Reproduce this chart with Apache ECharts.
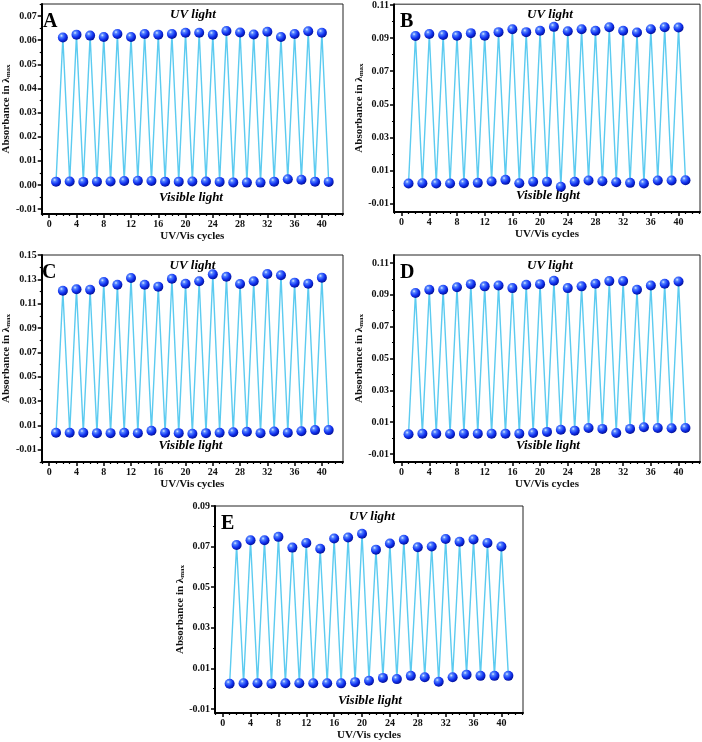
<!DOCTYPE html>
<html>
<head>
<meta charset="utf-8">
<script src="https://cdn.jsdelivr.net/npm/echarts@6/dist/echarts.min.js"></script>
<style>html,body{margin:0;padding:0;background:#fff}#c{width:702px;height:742px}</style>
</head>
<body>
<div id="c"></div>
<script>
// ---- data ----
const cycleX = [1,2,3,4,5,6,7,8,9,10,11,12,13,14,15,16,17,18,19,20,21,22,23,24,25,26,27,28,29,30,31,32,33,34,35,36,37,38,39,40,41];
const xTickLabels = [0,4,8,12,16,20,24,28,32,36,40];

const A_uv  = [0.0611,0.0623,0.0619,0.0613,0.0626,0.0613,0.0626,0.0623,0.0626,0.0631,0.0631,0.0623,0.0638,0.0632,0.0624,0.0635,0.0613,0.0626,0.0637,0.0631];
const A_vis = [0.0014,0.0015,0.0013,0.0014,0.0015,0.0017,0.0018,0.0017,0.0014,0.0014,0.0015,0.0015,0.0013,0.0011,0.0010,0.0010,0.0014,0.0024,0.0022,0.0014,0.0013];
const A_yTicks = [-0.01,0,0.01,0.02,0.03,0.04,0.05,0.06,0.07];

const B_uv  = [0.0913,0.0925,0.0919,0.0915,0.0930,0.0915,0.0936,0.0954,0.0936,0.0944,0.0968,0.0942,0.0954,0.0944,0.0966,0.0944,0.0934,0.0954,0.0966,0.0964];
const B_vis = [0.0022,0.0024,0.0022,0.0022,0.0024,0.0026,0.0034,0.0044,0.0024,0.0032,0.0032,0.0003,0.0032,0.0040,0.0036,0.0030,0.0026,0.0022,0.0040,0.0040,0.0042];
const B_yTicks = [-0.01,0.01,0.03,0.05,0.07,0.09,0.11];

const C_uv  = [0.1207,0.1218,0.1215,0.1278,0.1256,0.1311,0.1256,0.1240,0.1305,0.1264,0.1284,0.1341,0.1322,0.1262,0.1284,0.1344,0.1333,0.1273,0.1264,0.1314];
const C_vis = [0.0040,0.0040,0.0040,0.0037,0.0037,0.0040,0.0037,0.0056,0.0040,0.0037,0.0032,0.0037,0.0040,0.0045,0.0048,0.0037,0.0051,0.0040,0.0053,0.0062,0.0062];
const C_yTicks = [-0.01,0.01,0.03,0.05,0.07,0.09,0.11,0.13,0.15];

const D_uv  = [0.0911,0.0932,0.0932,0.0948,0.0967,0.0953,0.0959,0.0942,0.0963,0.0967,0.0988,0.0942,0.0953,0.0969,0.0986,0.0986,0.0932,0.0959,0.0969,0.0984];
const D_vis = [0.0024,0.0028,0.0028,0.0026,0.0028,0.0028,0.0028,0.0028,0.0028,0.0032,0.0039,0.0053,0.0047,0.0064,0.0058,0.0032,0.0058,0.0068,0.0064,0.0062,0.0064];
const D_yTicks = [-0.01,0.01,0.03,0.05,0.07,0.09,0.11];

const E_uv  = [0.0708,0.0731,0.0731,0.0748,0.0695,0.0718,0.0689,0.0740,0.0745,0.0763,0.0685,0.0715,0.0734,0.0697,0.0700,0.0737,0.0724,0.0735,0.0718,0.0700];
const E_vis = [0.0024,0.0027,0.0027,0.0024,0.0027,0.0027,0.0027,0.0027,0.0026,0.0032,0.0039,0.0053,0.0047,0.0063,0.0056,0.0034,0.0056,0.0069,0.0063,0.0063,0.0063];
const E_yTicks = [-0.01,0.01,0.03,0.05,0.07,0.09];

const panelLetters = ['A','B','C','D','E'];
const uvText = 'UV light';
const visText = 'Visible light';
const xName = 'UV/Vis cycles';

// ---- layout ----
const panels = [
  {uv:A_uv, vis:A_vis, yt:A_yTicks, ymin:-0.012, ymax:0.075, step:0.005, g:{left:37, top:4, width:306, height:210}},
  {uv:B_uv, vis:B_vis, yt:B_yTicks, ymin:-0.015, ymax:0.1105, step:0.01, g:{left:394, top:4, width:306, height:208}},
  {uv:C_uv, vis:C_vis, yt:C_yTicks, ymin:-0.02, ymax:0.15, step:0.01, g:{left:36, top:255, width:307, height:207}},
  {uv:D_uv, vis:D_vis, yt:D_yTicks, ymin:-0.015, ymax:0.115, step:0.01, g:{left:394, top:255, width:306, height:207}},
  {uv:E_uv, vis:E_vis, yt:E_yTicks, ymin:-0.012, ymax:0.09, step:0.01, g:{left:215, top:506, width:308, height:211}}
];
const XMIN = -1.1, XMAX = 43.1;
const FONT = '"Liberation Serif","Times New Roman",serif';

const xMinor = [];
for (let i = -1; i <= 43; i++) if (i % 4 !== 0 || i < 0) xMinor.push(i);

const grids = [], xAxes = [], yAxes = [], series = [], graphics = [];
const sphere = {
  type:'radial', x:0.36, y:0.32, r:0.72,
  colorStops:[{offset:0,color:'#dde9ff'},{offset:0.22,color:'#5585ff'},{offset:0.6,color:'#1233f2'},{offset:1,color:'#000c90'}]
};

panels.forEach((p, k) => {
  grids.push(Object.assign({show:true, borderColor:'#222', borderWidth:1, backgroundColor:'#fff'}, p.g));
  const yMinor = [];
  for (let v = Math.ceil(p.ymin/p.step - 1e-9); v*p.step <= p.ymax + 1e-9; v++) {
    const val = +(v*p.step).toFixed(4);
    if (!p.yt.some(t => Math.abs(t - val) < 1e-9)) yMinor.push(val);
  }
  const baseX = {gridIndex:k, type:'value', min:XMIN, max:XMAX, splitLine:{show:false}, position:'bottom'};
  xAxes.push(Object.assign({}, baseX, {
    name:xName, nameLocation:'middle', nameGap:17,
    nameTextStyle:{fontFamily:FONT, fontWeight:'bold', fontSize:11, color:'#111'},
    axisLine:{show:true, onZero:false, lineStyle:{color:'#000', width:2}},
    axisTick:{show:true, inside:false, length:4, customValues:xTickLabels, lineStyle:{color:'#000', width:1.5}},
    axisLabel:{show:true, customValues:xTickLabels, margin:5, fontFamily:FONT, fontWeight:'bold', fontSize:10, color:'#111'}
  }));
  xAxes.push(Object.assign({}, baseX, {
    axisLine:{show:false, onZero:false},
    axisTick:{show:true, inside:false, length:2, customValues:xMinor, lineStyle:{color:'#000', width:1.2}},
    axisLabel:{show:false}
  }));
  const baseY = {gridIndex:k, type:'value', min:p.ymin, max:p.ymax, splitLine:{show:false}, position:'left'};
  yAxes.push(Object.assign({}, baseY, {
    name:'{a|Absorbance in λ}{s|max}', nameLocation:'middle', nameGap:29,
    nameTextStyle:{rich:{
      a:{fontFamily:FONT, fontWeight:'bold', fontSize:11, color:'#111', verticalAlign:'bottom', lineHeight:14},
      s:{fontFamily:FONT, fontWeight:'bold', fontSize:7, color:'#111', verticalAlign:'bottom', lineHeight:10}
    }},
    axisLine:{show:true, onZero:false, lineStyle:{color:'#000', width:2}},
    axisTick:{show:true, inside:false, length:4, customValues:p.yt, lineStyle:{color:'#000', width:1.5}},
    axisLabel:{show:true, customValues:p.yt, margin:5, formatter:v => v.toFixed(2), fontFamily:FONT, fontWeight:'bold', fontSize:10, color:'#111'}
  }));
  yAxes.push(Object.assign({}, baseY, {
    axisLine:{show:false, onZero:false},
    axisTick:{show:true, inside:false, length:2, customValues:yMinor, lineStyle:{color:'#000', width:1.2}},
    axisLabel:{show:false}
  }));
  const data = cycleX.map(c => [c, c % 2 === 1 ? p.vis[(c-1)/2] : p.uv[c/2-1]]);
  series.push({
    type:'line', xAxisIndex:2*k, yAxisIndex:2*k, data:data,
    symbol:'circle', symbolSize:10, showSymbol:true, silent:true,
    lineStyle:{color:'#5ccbf0', width:1.4},
    itemStyle:{color:sphere, borderWidth:0},
    animation:false
  });
  const g = p.g, cx = g.left + g.width/2;
  graphics.push({type:'text', left:g.left+6, top:g.top+8, style:{text:panelLetters[k], font:'bold 20px '+FONT, fill:'#000'}});
  graphics.push({type:'text', x:cx+3, y:g.top+11, style:{text:uvText, font:'italic bold 13px '+FONT, fill:'#000', align:'center', verticalAlign:'middle'}});
  graphics.push({type:'text', x:cx+1, y:g.top+g.height-16, style:{text:visText, font:'italic bold 13px '+FONT, fill:'#000', align:'center', verticalAlign:'middle'}});
});

const chart = echarts.init(document.getElementById('c'), null, {renderer:'canvas'});
chart.setOption({
  animation:false,
  backgroundColor:'#fff',
  grid:grids, xAxis:xAxes, yAxis:yAxes, series:series, graphic:graphics
});
</script>
</body>
</html>
